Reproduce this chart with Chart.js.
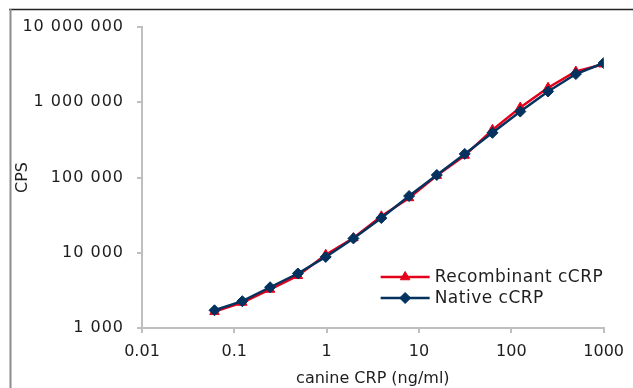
<!DOCTYPE html>
<html>
<head>
<meta charset="utf-8">
<script src="https://cdn.jsdelivr.net/npm/chart.js@4.4.1/dist/chart.umd.min.js"></script>
<style>
  html, body { margin: 0; padding: 0; background: #ffffff; }
  #wrap { position: relative; width: 633px; height: 388px; }
</style>
</head>
<body>
<div id="wrap"><canvas id="c" width="633" height="388"></canvas></div>
<script>
// ---- data ----
const concentration = [0.061, 0.122, 0.244, 0.488, 0.977, 1.95, 3.91, 7.81, 15.6, 31.3, 62.5, 125, 250, 500, 1000];
const recombinantCPS = [1650, 2180, 3250, 4950, 9400, 15700, 30500, 53500, 106000, 196000, 430000, 850000, 1560000, 2560000, 3200000];
const nativeCPS = [1720, 2270, 3480, 5300, 8800, 15500, 28900, 56700, 108000, 206000, 392000, 752000, 1390000, 2370000, 3320000];
const xTickValues = [0.01, 0.1, 1, 10, 100, 1000];
const xTickLabels = ["0.01", "0.1", "1", "10", "100", "1000"];
const yTickValues = [1000, 10000, 100000, 1000000, 10000000];
const yTickLabels = ["1 000", "10 000", "100 000", "1 000 000", "10 000 000"];
const seriesNames = ["Recombinant cCRP", "Native cCRP"];
const xTitle = "canine CRP (ng/ml)";
const yTitle = "CPS";

const RED = '#e3001b';
const NAVY = '#03325f';
const AXIS = '#bfbfbf';
const TEXT = '#1e1e1e';
const FONT = "'DejaVu Sans', sans-serif";

const frame = {
  id: 'frame',
  beforeDraw(chart) {
    const ctx = chart.ctx;
    ctx.save();
    ctx.fillStyle = '#ffffff';
    ctx.fillRect(0, 0, chart.width, chart.height);
    ctx.lineWidth = 1.5;
    ctx.strokeStyle = '#222222';
    ctx.beginPath(); ctx.moveTo(9, 9.5); ctx.lineTo(chart.width, 9.5); ctx.stroke();
    ctx.lineWidth = 2;
    ctx.strokeStyle = '#8c8c8c';
    ctx.beginPath(); ctx.moveTo(10.5, 9); ctx.lineTo(10.5, chart.height); ctx.stroke();
    ctx.restore();
  }
};

const innerLegend = {
  id: 'innerLegend',
  afterDatasetsDraw(chart) {
    const ctx = chart.ctx;
    const area = chart.chartArea;
    const x0 = area.right - 223, x1 = area.right - 174, tx = area.right - 169;
    const rows = [area.bottom - 51, area.bottom - 30];
    const order = [1, 0];
    ctx.save();
    order.forEach((di, i) => {
      const ds = chart.data.datasets[di];
      const y = rows[i];
      ctx.strokeStyle = ds.borderColor;
      ctx.lineWidth = ds.borderWidth;
      ctx.beginPath(); ctx.moveTo(x0, y); ctx.lineTo(x1, y); ctx.stroke();
      ctx.fillStyle = ds.pointBackgroundColor;
      ctx.strokeStyle = ds.pointBorderColor;
      ctx.lineWidth = ds.pointBorderWidth;
      Chart.helpers.drawPoint(ctx, { pointStyle: ds.pointStyle, rotation: 0, borderWidth: ds.pointBorderWidth, radius: ds.pointRadius }, (x0 + x1) / 2, y);
      ctx.fillStyle = TEXT;
      ctx.font = "17px " + FONT;
      ctx.letterSpacing = '0.5px';
      ctx.textBaseline = 'middle';
      ctx.textAlign = 'left';
      ctx.fillText(ds.label, tx, y + 1);
      ctx.letterSpacing = '0px';
    });
    ctx.restore();
  }
};

function spacedLabels(scale, spacing) {
  const orig = Object.getPrototypeOf(scale).drawLabels;
  scale.drawLabels = function (ca) {
    const ctx = this.ctx;
    const prev = ctx.letterSpacing;
    ctx.letterSpacing = spacing;
    orig.call(this, ca);
    ctx.letterSpacing = prev || '0px';
  };
}

new Chart(document.getElementById('c'), {
  type: 'line',
  data: {
    datasets: [
      {
        label: seriesNames[1],
        data: concentration.map((x, i) => ({ x: x, y: nativeCPS[i] })),
        borderColor: NAVY, backgroundColor: NAVY,
        pointBackgroundColor: NAVY, pointBorderColor: NAVY,
        borderWidth: 2.5, pointStyle: 'rectRot', pointRadius: 5.5, pointBorderWidth: 1,
        pointHoverRadius: 5.5, order: 0, tension: 0
      },
      {
        label: seriesNames[0],
        data: concentration.map((x, i) => ({ x: x, y: recombinantCPS[i] })),
        borderColor: RED, backgroundColor: RED,
        pointBackgroundColor: RED, pointBorderColor: RED,
        borderWidth: 2.5, pointStyle: 'triangle', pointRadius: 5.5, pointBorderWidth: 1,
        pointHoverRadius: 5.5, order: 1, tension: 0
      }
    ]
  },
  options: {
    responsive: false,
    animation: false,
    devicePixelRatio: 1,
    layout: { padding: { left: 0, right: 27, top: 27, bottom: 0 } },
    plugins: { legend: { display: false }, tooltip: { enabled: false } },
    scales: {
      x: {
        type: 'logarithmic',
        min: 0.01, max: 1000,
        afterBuildTicks: (s) => { s.ticks = xTickValues.map(v => ({ value: v })); },
        afterFit: (s) => { s.height = 60; },
        ticks: {
          autoSkip: false, maxRotation: 0, padding: 9, color: TEXT,
          font: { family: FONT, size: 16 },
          callback: (v, i) => xTickLabels[i]
        },
        grid: { display: true, drawOnChartArea: false, drawTicks: true, tickLength: 5, color: AXIS, lineWidth: 2 },
        border: { display: true, color: AXIS, width: 2 },
        title: { display: true, text: xTitle, color: TEXT, font: { family: FONT, size: 16 }, padding: 0 }
      },
      y: {
        type: 'logarithmic',
        min: 1000, max: 10000000,
        afterBuildTicks: (s) => { s.ticks = yTickValues.map(v => ({ value: v })); },
        afterFit: (s) => { s.width = 142; spacedLabels(s, '1px'); },
        ticks: {
          autoSkip: false, padding: 13, color: TEXT,
          font: { family: FONT, size: 16 },
          callback: (v, i) => yTickLabels[i]
        },
        grid: { display: true, drawOnChartArea: false, drawTicks: true, tickLength: 5, color: AXIS, lineWidth: 2 },
        border: { display: true, color: AXIS, width: 2 },
        title: { display: true, text: yTitle, color: TEXT, font: { family: FONT, size: 16 }, padding: 13 }
      }
    }
  },
  plugins: [frame, innerLegend]
});
</script>
</body>
</html>
